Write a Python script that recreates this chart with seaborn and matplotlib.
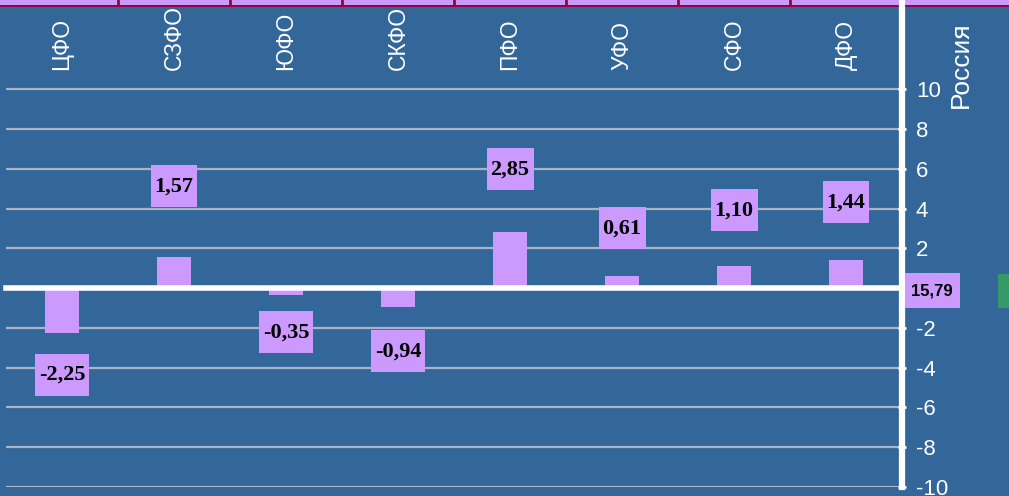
import matplotlib
matplotlib.use('Agg')
import matplotlib.pyplot as plt
from matplotlib.patches import Rectangle
import numpy as np
import pandas as pd
import seaborn as sns

# data
districts = ['ЦФО', 'СЗФО', 'ЮФО', 'СКФО', 'ПФО', 'УФО', 'СФО', 'ДФО']
values = [-2.25, 1.57, -0.35, -0.94, 2.85, 0.61, 1.10, 1.44]
value_labels = ['-2,25', '1,57', '-0,35', '-0,94', '2,85', '0,61', '1,10', '1,44']
russia_label = '15,79'
y_ticks = [-10, -8, -6, -4, -2, 2, 4, 6, 8, 10]

# layout: centre heights of the value boxes (in axis units)
label_y = [-4.37, 5.13, -2.21, -3.17, 5.98, 3.02, 3.92, 4.32]

bg = '#336699'
lilac = '#CC99FF'
crimson = '#990033'

sns.set_style('white')
plt.rcParams['font.family'] = ['Liberation Sans', 'DejaVu Sans']

df = pd.DataFrame({'district': districts, 'value': values})

fig = plt.figure(figsize=(10.09, 4.96), dpi=100, facecolor=bg)
ax = fig.add_axes([6 / 1009, 9 / 496, 896 / 1009, 487 / 496])
ax.patch.set_visible(False)

sns.barplot(data=df, x='district', y='value', color=lilac, saturation=1,
            width=0.3, ax=ax, zorder=2, edgecolor='none', linewidth=0)

ax.set_xlim(-0.5, 7.5)
ax.set_ylim(-10, 14.5)

# spines: thick white right axis, zero line as bottom spine
for s in ['left', 'top']:
    ax.spines[s].set_visible(False)
ax.spines['right'].set_color('white')
ax.spines['right'].set_linewidth(4.5)
ax.spines['right'].set_zorder(5)
ax.spines['bottom'].set_position(('data', 0))
ax.spines['bottom'].set_color('white')
ax.spines['bottom'].set_linewidth(4)
ax.spines['bottom'].set_zorder(5)

ax.set_xticks(np.arange(-0.5, 8, 1))
ax.set_xticklabels([])
ax.tick_params(axis='x', colors='white', direction='out', length=6, width=3)

ax.yaxis.tick_right()
ax.set_yticks(y_ticks)
ax.set_yticklabels([str(t) for t in y_ticks])
ax.tick_params(axis='y', colors='white', labelcolor='white', labelsize=16,
               direction='inout', length=6, width=2, pad=7)
ax.yaxis.grid(True, color='#aab4c4', linewidth=1.6, zorder=1)
ax.set_axisbelow(True)
ax.set_xlabel('')
ax.set_ylabel('')

# district names at the top
for i, d in enumerate(districts):
    ax.text(i, 11.0, d, rotation=90, ha='center', va='bottom',
            color='white', fontsize=16.5)

# value labels with lilac boxes
texts = []
for i, (lab, ly) in enumerate(zip(value_labels, label_y)):
    t = ax.text(i, ly, lab, ha='center', va='center', fontsize=16,
                family='Liberation Serif', weight='bold', color='black', zorder=4)
    texts.append((i, ly, t))

fig.canvas.draw()
r = fig.canvas.get_renderer()
inv = ax.transData.inverted()
for i, ly, t in texts:
    bb = t.get_window_extent(r)
    cx, cy = ax.transData.transform((i, ly))
    w, h = bb.width + 8, 42
    (x0, y0) = inv.transform((cx - w / 2, cy - h / 2))
    (x1, y1) = inv.transform((cx + w / 2, cy + h / 2))
    ax.add_patch(Rectangle((x0, y0), x1 - x0, y1 - y0, facecolor=lilac,
                           edgecolor='none', zorder=3))

# strip of the table above, cut off at the top edge
fig.patches.append(Rectangle((0, 1 - 5 / 496), 1, 5 / 496, transform=fig.transFigure,
                             facecolor=lilac, edgecolor='none', zorder=-1))
fig.lines.append(plt.Line2D([0, 1], [1 - 5 / 496, 1 - 5 / 496], transform=fig.transFigure,
                            color=crimson, linewidth=2, zorder=-1))
for k in np.arange(0.5, 7.5, 1):
    ax.axvline(k, ymin=1 - 5 / 487, ymax=1, color=crimson, linewidth=2, zorder=1)

# Russia total, outside the axis
fig.text(961 / 1009, 1 - 108 / 496, 'Россия', rotation=90, ha='center', va='bottom',
         color='white', fontsize=19)
fig.patches.append(Rectangle((905 / 1009, 1 - 308 / 496), 55 / 1009, 35 / 496,
                             transform=fig.transFigure, facecolor=lilac,
                             edgecolor='none', zorder=6))
fig.text(932 / 1009, 1 - 291 / 496, russia_label, ha='center', va='center',
         fontsize=12, weight='bold', color='black', zorder=7)
fig.patches.append(Rectangle((998 / 1009, 1 - 308 / 496), 11 / 1009, 34 / 496,
                             transform=fig.transFigure, facecolor='#339966',
                             edgecolor='none', zorder=6))

fig.savefig('out.png', dpi=100, facecolor=bg)
